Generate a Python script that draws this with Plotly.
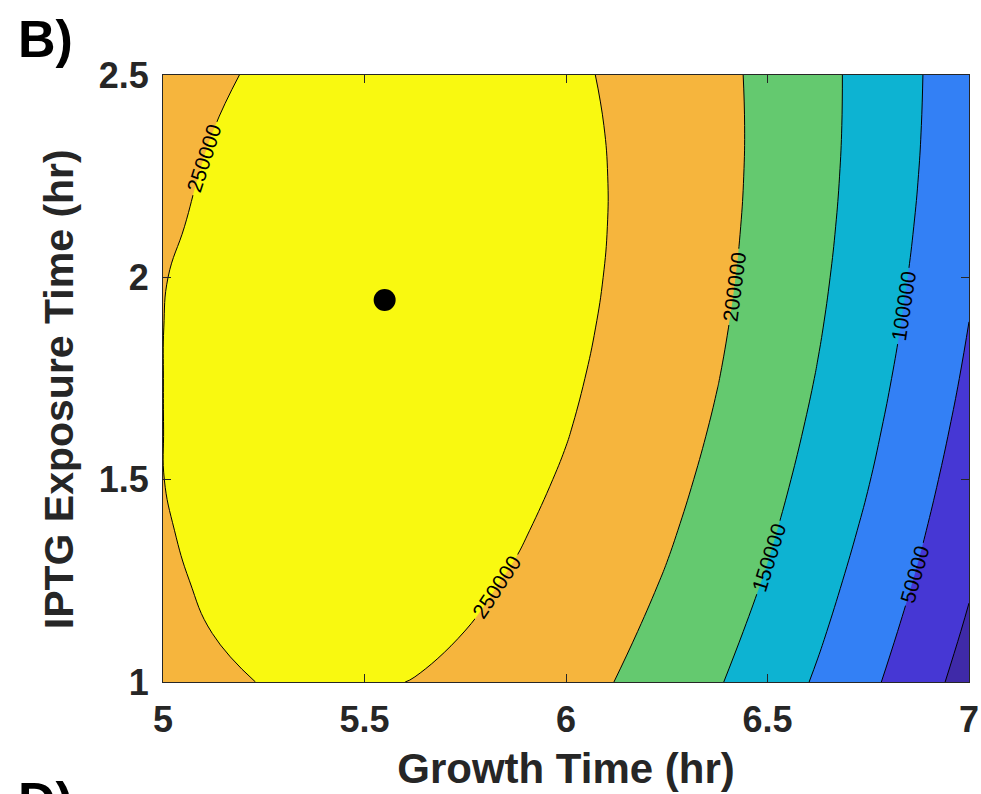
import plotly.graph_objects as go

# Response surface: product yield over growth time (x) and IPTG exposure time (y)
growth_time = [5.0, 5.125, 5.25, 5.375, 5.5, 5.625, 5.75, 5.875, 6.0,
               6.125, 6.25, 6.375, 6.5, 6.625, 6.75, 6.875, 7.0]
iptg_time = [1.0, 1.125, 1.25, 1.375, 1.5, 1.625, 1.75,
             1.875, 2.0, 2.125, 2.25, 2.375, 2.5]

# One row per IPTG exposure time, one column per growth time
yield_grid = [
    [235190, 244810, 251020, 253830, 253230, 249230, 241810, 231000, 216770,
     199140, 178100, 153660, 125810, 94560, 59890, 21830, -19650],
    [240330, 250440, 257140, 260440, 260330, 256810, 249890, 239560, 225830,
     208690, 188140, 164190, 136830, 106070, 71890, 34320, -6670],
    [244430, 255030, 262220, 266000, 266380, 263360, 256920, 247080, 233840,
     217180, 197120, 173660, 146790, 116510, 82830, 45740, 5240],
    [247480, 258570, 266250, 270530, 271400, 268860, 262920, 253570, 240810,
     224650, 205080, 182110, 155730, 125940, 92750, 56150, 16140],
    [249700, 261090, 269260, 274020, 275380, 273340, 267880, 259030, 246760,
     231090, 212010, 189530, 163640, 134340, 101640, 65530, 26010],
    [249850, 262560, 271220, 276470, 278320, 276760, 271790, 263420, 251650,
     236460, 217870, 195880, 170470, 141660, 109450, 73830, 34800],
    [249900, 262990, 272140, 277880, 280220, 279150, 274680, 266800, 255510,
     240820, 222720, 201210, 176300, 147980, 116260, 81130, 42590],
    [249800, 262390, 272030, 278260, 281090, 280510, 276520, 269130, 258330,
     244120, 226510, 205490, 181070, 153240, 122000, 87360, 49310],
    [248800, 260740, 270870, 277590, 280910, 280820, 277320, 270420, 260110,
     246400, 229280, 208750, 184810, 157470, 126730, 92580, 55020],
    [244030, 258050, 268670, 275880, 279690, 280090, 277090, 270670, 260860,
     247630, 231000, 210960, 187520, 160670, 130420, 96750, 59690],
    [239820, 254330, 265440, 273140, 277430, 278320, 275810, 269880, 260550,
     247810, 231670, 212120, 189170, 162810, 133040, 99860, 63280],
    [234560, 249560, 261160, 269350, 274140, 275520, 273490, 268050, 259210,
     246970, 231320, 212260, 189790, 163920, 134640, 101960, 65870],
    [228270, 243760, 255850, 264530, 269810, 271680, 270140, 265200, 256850,
     245090, 229930, 211360, 189390, 164000, 135220, 103030, 67430],
]

level_start = 0
level_end = 250000
level_step = 50000

# Fill colours from the lowest band (below 0) to the highest (above 250000)
band_colors = ["#3f2aa8", "#4637d4", "#3380f5", "#0db3d2",
               "#64c96f", "#f6b53d", "#f9f910"]

# Predicted optimum
optimum_growth = [5.55]
optimum_iptg = [1.944]

x_ticks = [5, 5.5, 6, 6.5, 7]
x_ticktext = ["5", "5.5", "6", "6.5", "7"]
y_ticks = [1, 1.5, 2, 2.5]
y_ticktext = ["1", "1.5", "2", "2.5"]

FONT = "Liberation Sans, Arial, sans-serif"
INK = "#262626"

n = len(band_colors) - 1
colorscale = [[i / n, c] for i, c in enumerate(band_colors)]

fig = go.Figure()
fig.add_trace(go.Contour(
    x=growth_time,
    y=iptg_time,
    z=yield_grid,
    autocontour=False,
    contours=dict(
        start=level_start,
        end=level_end,
        size=level_step,
        coloring="fill",
        showlabels=True,
        labelformat="d",
        labelfont=dict(family=FONT, size=21, color="black"),
    ),
    colorscale=colorscale,
    showscale=False,
    line=dict(color="black", width=1, smoothing=1.3),
    hoverinfo="skip",
))

fig.add_trace(go.Scatter(
    x=optimum_growth,
    y=optimum_iptg,
    mode="markers",
    marker=dict(color="black", size=22),
    showlegend=False,
    hoverinfo="skip",
))

axis_common = dict(
    showline=True,
    linecolor=INK,
    linewidth=1,
    mirror="ticks",
    ticks="inside",
    ticklen=8,
    tickwidth=1,
    tickcolor=INK,
    showgrid=False,
    zeroline=False,
    automargin=False,
    ticklabelstandoff=6,
    tickfont=dict(family=FONT, size=36, color=INK, weight="bold"),
)

fig.update_layout(
    width=981,
    height=794,
    margin=dict(l=163, r=12, t=75, b=112),
    paper_bgcolor="white",
    plot_bgcolor="white",
    showlegend=False,
    xaxis=dict(
        range=[5, 7],
        tickvals=x_ticks,
        ticktext=x_ticktext,
        title=dict(text="Growth Time (hr)", standoff=14,
                   font=dict(family=FONT, size=42, color=INK, weight="bold")),
        **axis_common,
    ),
    yaxis=dict(
        range=[1, 2.5],
        tickvals=y_ticks,
        ticktext=y_ticktext,
        **axis_common,
    ),
    annotations=[
        dict(text="IPTG Exposure Time (hr)", xref="paper", yref="paper",
             x=-0.128, y=0.482, xanchor="center", yanchor="middle",
             textangle=-90, showarrow=False,
             font=dict(family=FONT, size=41, color=INK, weight="bold")),
        dict(text="B)", xref="paper", yref="paper", x=-0.182, y=1.11,
             xanchor="left", yanchor="top", showarrow=False,
             font=dict(family=FONT, size=52, color="black", weight="bold")),
        dict(text="D)", xref="paper", yref="paper", x=-0.182, y=-0.145,
             xanchor="left", yanchor="top", showarrow=False,
             font=dict(family=FONT, size=52, color="black", weight="bold")),
    ],
)

fig.write_html("out.html")
